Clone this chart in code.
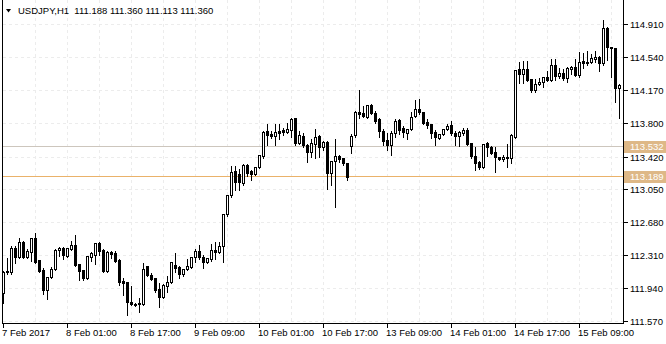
<!DOCTYPE html>
<html>
<head>
<meta charset="utf-8">
<script src="https://cdn.jsdelivr.net/npm/d3@7"></script>
<style>
	body { margin: 0; background: #fff; }
	svg { display: block; }
	text { font-family: 'Liberation Sans', Arial, sans-serif; font-size: 9.5px; fill: #000; }
</style>
</head>
<body>
<svg></svg>
<script>
const symbol = 'USDJPY,H1'
const headerQuote = ['111.188', '111.360', '111.113', '111.360']

// H1 bars, oldest first
const opens = [
	111.885, 112.122, 112.122, 112.391, 112.290, 112.459, 112.290, 112.347, 112.503, 112.256,
	112.144, 111.919, 112.066, 112.155, 112.369, 112.391, 112.301, 112.380, 112.425, 112.211,
	112.144, 112.054, 112.290, 112.313, 112.447, 112.369, 112.133, 112.347, 112.335, 112.256,
	112.020, 112.009, 111.784, 111.761, 111.761, 111.761, 112.189, 112.088, 112.054, 111.930,
	111.840, 111.964, 112.009, 112.200, 112.177, 112.099, 112.155, 112.177, 112.290, 112.358,
	112.290, 112.234, 112.267, 112.369, 112.347, 112.414, 112.774, 112.987, 113.257, 113.224,
	113.122, 113.325, 113.257, 113.224, 113.302, 113.426, 113.707, 113.673, 113.651, 113.707,
	113.718, 113.696, 113.718, 113.853, 113.572, 113.651, 113.549, 113.471, 113.561, 113.651,
	113.527, 113.583, 113.234, 113.370, 113.426, 113.403, 113.347, 113.538, 113.662, 113.920,
	113.909, 113.864, 113.999, 113.909, 113.842, 113.707, 113.606, 113.549, 113.684, 113.830,
	113.741, 113.684, 113.729, 113.875, 113.954, 113.920, 113.808, 113.785, 113.696, 113.628,
	113.673, 113.729, 113.774, 113.684, 113.651, 113.684, 113.718, 113.572, 113.426, 113.358,
	113.302, 113.572, 113.527, 113.471, 113.415, 113.392, 113.415, 113.403, 113.639, 114.404,
	114.348, 114.404, 114.292, 114.168, 114.235, 114.258, 114.314, 114.280, 114.449, 114.325,
	114.359, 114.303, 114.404, 114.427, 114.337, 114.494, 114.472, 114.483, 114.517, 114.539,
	114.472, 114.865, 114.651, 114.640, 114.190
]
const highs = [
	112.144, 112.290, 112.425, 112.425, 112.514, 112.481, 112.391, 112.514, 112.571, 112.267,
	112.177, 112.077, 112.189, 112.391, 112.414, 112.414, 112.403, 112.481, 112.548, 112.222,
	112.155, 112.313, 112.358, 112.459, 112.470, 112.391, 112.369, 112.369, 112.369, 112.279,
	112.066, 112.020, 111.975, 111.784, 111.840, 112.234, 112.200, 112.122, 112.066, 112.009,
	111.998, 112.088, 112.245, 112.347, 112.200, 112.166, 112.279, 112.301, 112.391, 112.436,
	112.324, 112.290, 112.447, 112.470, 112.470, 112.785, 112.998, 113.325, 113.325, 113.291,
	113.347, 113.347, 113.280, 113.313, 113.448, 113.718, 113.796, 113.718, 113.796, 113.796,
	113.752, 113.808, 113.864, 113.864, 113.718, 113.696, 113.572, 113.628, 113.741, 113.673,
	113.606, 113.606, 113.381, 113.628, 113.448, 113.415, 113.358, 113.684, 113.943, 114.179,
	113.999, 114.010, 114.022, 113.943, 113.864, 113.741, 113.696, 113.718, 113.853, 113.853,
	113.774, 113.741, 113.932, 114.066, 114.078, 113.932, 113.853, 113.796, 113.729, 113.684,
	113.741, 113.796, 113.830, 113.718, 113.718, 113.752, 113.752, 113.583, 113.538, 113.381,
	113.572, 113.594, 113.549, 113.538, 113.426, 113.448, 113.572, 113.684, 114.404, 114.494,
	114.505, 114.505, 114.303, 114.303, 114.314, 114.325, 114.393, 114.528, 114.528, 114.427,
	114.415, 114.438, 114.449, 114.528, 114.607, 114.595, 114.618, 114.584, 114.618, 114.562,
	114.966, 114.888, 114.663, 114.651, 114.247
]
const lows = [
	111.772, 112.099, 112.099, 112.222, 112.279, 112.279, 112.279, 112.245, 112.222, 112.122,
	111.874, 111.817, 112.054, 112.144, 112.301, 112.267, 112.290, 112.369, 112.189, 112.031,
	112.031, 112.043, 112.245, 112.211, 112.313, 112.122, 112.122, 112.279, 112.234, 111.975,
	111.863, 111.637, 111.750, 111.739, 111.671, 111.750, 112.077, 112.031, 111.896, 111.728,
	111.829, 111.896, 111.998, 112.122, 112.054, 112.077, 112.144, 112.166, 112.234, 112.267,
	112.166, 112.222, 112.245, 112.267, 112.335, 112.234, 112.751, 112.964, 113.043, 113.043,
	113.100, 113.201, 113.156, 113.212, 113.291, 113.403, 113.549, 113.628, 113.549, 113.617,
	113.662, 113.684, 113.639, 113.549, 113.561, 113.527, 113.358, 113.415, 113.403, 113.415,
	113.493, 113.054, 113.100, 112.852, 113.358, 113.325, 113.156, 113.460, 113.639, 113.853,
	113.864, 113.853, 113.898, 113.796, 113.639, 113.549, 113.493, 113.437, 113.639, 113.673,
	113.639, 113.617, 113.718, 113.864, 113.898, 113.785, 113.741, 113.628, 113.549, 113.617,
	113.662, 113.718, 113.662, 113.549, 113.538, 113.662, 113.549, 113.403, 113.268, 113.280,
	113.291, 113.426, 113.448, 113.246, 113.381, 113.370, 113.302, 113.347, 113.628, 114.247,
	114.247, 114.269, 114.145, 114.145, 114.224, 114.202, 114.269, 114.269, 114.280, 114.303,
	114.280, 114.258, 114.348, 114.325, 114.314, 114.415, 114.449, 114.472, 114.483, 114.382,
	114.449, 114.505, 114.314, 114.033, 113.853
]
const closes = [
	112.122, 112.133, 112.391, 112.290, 112.459, 112.290, 112.358, 112.503, 112.234, 112.133,
	111.919, 112.066, 112.155, 112.369, 112.391, 112.313, 112.391, 112.425, 112.200, 112.133,
	112.054, 112.301, 112.335, 112.447, 112.358, 112.133, 112.347, 112.324, 112.245, 112.009,
	111.998, 111.784, 111.761, 111.750, 111.772, 112.155, 112.088, 112.043, 111.919, 111.840,
	111.975, 112.009, 112.234, 112.166, 112.099, 112.155, 112.189, 112.290, 112.358, 112.290,
	112.234, 112.279, 112.369, 112.347, 112.414, 112.774, 112.987, 113.246, 113.134, 113.134,
	113.325, 113.235, 113.224, 113.302, 113.437, 113.696, 113.662, 113.651, 113.696, 113.684,
	113.696, 113.729, 113.842, 113.572, 113.662, 113.549, 113.471, 113.572, 113.639, 113.527,
	113.583, 113.234, 113.370, 113.426, 113.392, 113.347, 113.190, 113.651, 113.920, 113.898,
	113.875, 113.999, 113.909, 113.819, 113.707, 113.594, 113.549, 113.684, 113.819, 113.718,
	113.696, 113.729, 113.864, 113.954, 113.920, 113.796, 113.774, 113.684, 113.639, 113.673,
	113.729, 113.763, 113.684, 113.651, 113.696, 113.718, 113.561, 113.426, 113.347, 113.302,
	113.561, 113.527, 113.460, 113.415, 113.392, 113.415, 113.403, 113.662, 114.393, 114.348,
	114.404, 114.280, 114.168, 114.235, 114.258, 114.314, 114.280, 114.449, 114.325, 114.359,
	114.303, 114.415, 114.427, 114.337, 114.483, 114.472, 114.483, 114.528, 114.539, 114.472,
	114.865, 114.651, 114.640, 114.190, 114.224
]

const timeLabels = ['7 Feb 2017', '8 Feb 01:00', '8 Feb 17:00', '9 Feb 09:00', '10 Feb 01:00',
	'10 Feb 17:00', '13 Feb 09:00', '14 Feb 01:00', '14 Feb 17:00', '15 Feb 09:00']
const priceTicks = [114.910, 114.540, 114.170, 113.800, 113.420, 113.050, 112.680, 112.310, 111.940, 111.570]
const levels = [113.532, 113.189]
const levelColors = ['#cdc6bd', '#eab26a']

const width = 666,
	height = 344,
	left = 3,
	right = 623,
	bottom = 323,
	barStep = 4,
	labelEvery = 16,
	gridEvery = 8

const bars = opens.map((o, i) => ({ i, o, h: highs[i], l: lows[i], c: closes[i] }))

const x = d3
	.scaleLinear()
	.domain([0, 1])
	.range([left + 0.5, left + 0.5 + barStep])

const y = d3
	.scaleLinear()
	.domain([111.548, 115.180])
	.range([bottom, 0])

const py = v => Math.round(y(v)) + 0.5

const svg = d3
	.select('svg')
	.attr('width', width)
	.attr('height', height)
	.attr('shape-rendering', 'crispEdges')

// dotted grid
const grid = svg.append('g').attr('stroke', '#ececec').attr('stroke-dasharray', '3,3')
grid.selectAll('.hg')
	.data(priceTicks)
	.enter()
	.append('line')
	.attr('x1', left)
	.attr('x2', right)
	.attr('y1', d => py(d))
	.attr('y2', d => py(d))
grid.selectAll('.vg')
	.data(d3.range(gridEvery, bars.length, gridEvery))
	.enter()
	.append('line')
	.attr('x1', d => x(d))
	.attr('x2', d => x(d))
	.attr('y1', 0)
	.attr('y2', bottom)

// price levels
svg.selectAll('.lvl')
	.data(levels)
	.enter()
	.append('line')
	.attr('x1', left)
	.attr('x2', right)
	.attr('y1', d => py(d) - 1)
	.attr('y2', d => py(d) - 1)
	.attr('stroke', (d, k) => levelColors[k])

// candles
const bar = svg
	.selectAll('.bar')
	.data(bars)
	.enter()
	.append('g')

bar.append('line')
	.attr('x1', d => x(d.i))
	.attr('x2', d => x(d.i))
	.attr('y1', d => py(d.h))
	.attr('y2', d => py(d.l) + 0.5)
	.attr('stroke', '#000')

bar.append('rect')
	.attr('x', d => x(d.i) - 1)
	.attr('width', 2)
	.attr('y', d => Math.min(py(d.o), py(d.c)))
	.attr('height', d => Math.max(Math.abs(py(d.o) - py(d.c)), 0.01))
	.attr('fill', d => (d.c >= d.o ? '#fff' : '#000'))
	.attr('stroke', '#000')

// frame
svg.append('line').attr('x1', left - 0.5).attr('x2', left - 0.5).attr('y1', 0).attr('y2', bottom + 0.5).attr('stroke', '#000')
svg.append('line').attr('x1', left - 1).attr('x2', right + 1).attr('y1', bottom + 0.5).attr('y2', bottom + 0.5).attr('stroke', '#000')
svg.append('line').attr('x1', right + 0.5).attr('x2', right + 0.5).attr('y1', 0).attr('y2', bottom + 1).attr('stroke', '#000')

// price axis
const pt = svg
	.selectAll('.pt')
	.data(priceTicks)
	.enter()
	.append('g')
	.attr('transform', d => 'translate(0,' + py(d) + ')')
pt.append('line').attr('x1', right).attr('x2', right + 5).attr('stroke', '#000')
pt.append('text')
	.attr('x', right + 7)
	.attr('y', 3.5)
	.text(d => d.toFixed(3))

// level labels
const lv = svg
	.selectAll('.lv')
	.data(levels)
	.enter()
	.append('g')
	.attr('transform', d => 'translate(0,' + (py(d) - 1) + ')')
lv.append('rect')
	.attr('x', right + 1)
	.attr('y', -6)
	.attr('width', width - right - 1)
	.attr('height', 12)
	.attr('fill', '#deb887')
lv.append('text')
	.attr('x', right + 7)
	.attr('y', 3.5)
	.style('fill', '#fff')
	.text(d => d.toFixed(3))

// time axis
const tt = svg
	.selectAll('.tt')
	.data(timeLabels)
	.enter()
	.append('g')
	.attr('transform', (d, k) => 'translate(' + x(k * labelEvery) + ',0)')
tt.append('line').attr('y1', bottom).attr('y2', bottom + 5).attr('stroke', '#000')
tt.append('text')
	.attr('x', -1.5)
	.attr('y', 336)
	.text(d => d)

// header
svg.append('path').attr('d', 'M6,9 L11,9 L8.5,12.5 Z').attr('fill', '#000').attr('shape-rendering', 'auto')
svg.append('text')
	.attr('x', 18)
	.attr('y', 14)
	.attr('xml:space', 'preserve')
	.text(symbol + '  ' + headerQuote.join(' '))
</script>
</body>
</html>
